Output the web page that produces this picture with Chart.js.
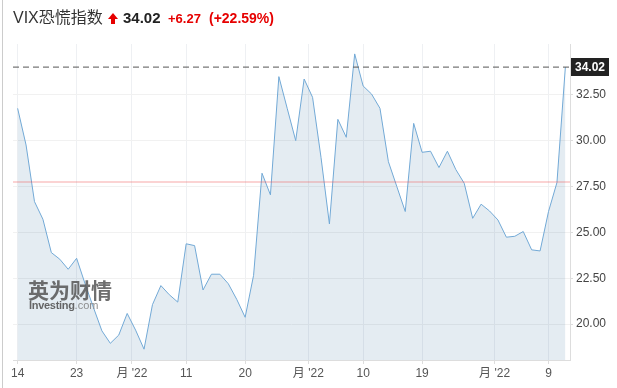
<!DOCTYPE html>
<html>
<head>
<meta charset="utf-8">
<script src="https://cdn.jsdelivr.net/npm/chart.js@4.4.1/dist/chart.umd.min.js"></script>
<style>
  html, body { margin: 0; padding: 0; background: #fff; }
  #wrap { position: relative; width: 617px; height: 388px; overflow: hidden; font-family: Arial, "Liberation Sans", "Noto Sans CJK SC", sans-serif; }
  #c { position: absolute; left: 0; top: 0; }
  .abs { position: absolute; white-space: nowrap; line-height: 1; }
  #leftline { position: absolute; left: 2px; top: 0; width: 1px; height: 388px; background: #cccccc; }
  #arrow { position: absolute; left: 108px; top: 13px; width: 10px; height: 11px; }
  #arrow .tri { position: absolute; left: 0; top: 0; width: 0; height: 0; border-left: 5px solid transparent; border-right: 5px solid transparent; border-bottom: 6px solid #e60000; }
  #arrow .stem { position: absolute; left: 3px; top: 6px; width: 4px; height: 5px; background: #e60000; }
  .wm { pointer-events: none; }
</style>
</head>
<body>
<div id="wrap">
  <canvas id="c" width="617" height="388"></canvas>
  <div id="leftline"></div>
  <span class="abs" style="left:13px; top:9.5px; font-size:16px; color:#333;">VIX恐慌指数</span>
  <div id="arrow"><div class="tri"></div><div class="stem"></div></div>
  <span class="abs" style="left:123px; top:10.3px; font-size:15px; font-weight:bold; color:#222;">34.02</span>
  <span class="abs" style="left:168px; top:12px; font-size:13px; font-weight:bold; color:#e60000;">+6.27</span>
  <span class="abs" style="left:209px; top:11.2px; font-size:14px; font-weight:bold; color:#e60000;">(+22.59%)</span>
  <span class="abs wm" style="left:28px; top:279px; font-size:21px; font-weight:bold; color:rgba(85,85,85,0.85); font-family:'Noto Sans CJK SC', sans-serif;">英为财情</span>
  <span class="abs wm" style="left:29px; top:299.5px; font-size:11px; font-weight:bold; color:rgba(85,85,85,0.9); letter-spacing:-0.3px;">Investing<span style="font-weight:normal; color:rgba(130,130,130,0.9); letter-spacing:0;">.com</span></span>
</div>
<script>
// ---- data ----
const vixValues = [
  31.77, 29.77, 26.68, 25.72, 23.90, 23.54, 22.99, 23.59, 22.20, 20.90,
  19.63, 18.95, 19.40, 20.58, 19.67, 18.63, 21.06, 22.10, 21.60, 21.20,
  24.38, 24.28, 21.86, 22.72, 22.72, 22.20, 21.35, 20.37, 22.66, 28.23,
  27.05, 33.50, 31.75, 30.01, 33.37, 32.37, 29.10, 25.46, 31.17, 30.19,
  34.74, 32.99, 32.55, 31.77, 28.86, 27.50, 26.14, 30.95, 29.37, 29.43,
  28.54, 29.43, 28.43, 27.68, 25.77, 26.54, 26.17, 25.68, 24.74, 24.79,
  25.05, 24.05, 23.99, 26.14, 27.72, 34.02
];
const lastValue = 34.02;
const prevClose = 27.75;
const xTickPositions = [0, 7, 13.57, 20, 27, 34.5, 41, 48, 56.6, 63];
const xTickLabels = ['14', '23', "月 '22", '11', '20', "月 '22", '10', '19', "月 '22", '9'];
const yTickValues = [20, 22.5, 25, 27.5, 30, 32.5];
const xRange = [-0.55, 65.55];
const yRange = [18.04, 35.28];

const linePoints = vixValues.map((v, i) => ({ x: i, y: v }));
const hline = (val) => [{ x: xRange[0], y: val }, { x: xRange[1], y: val }];

const lastLabelPlugin = {
  id: 'lastLabel',
  afterDraw(chart) {
    const ctx = chart.ctx;
    const ys = chart.scales.y;
    const py = Math.round(ys.getPixelForValue(lastValue));
    const left = chart.chartArea.right + 1;
    ctx.save();
    ctx.fillStyle = '#222222';
    ctx.fillRect(left, py - 9, 38, 18);
    ctx.fillStyle = '#ffffff';
    ctx.font = 'bold 12px Arial, "Liberation Sans", sans-serif';
    ctx.textAlign = 'center';
    ctx.textBaseline = 'middle';
    ctx.fillText(lastValue.toFixed(2), left + 19, py + 1);
    ctx.restore();
  }
};

new Chart(document.getElementById('c'), {
  type: 'line',
  data: {
    datasets: [
      {
        data: linePoints,
        borderColor: '#72a9d6',
        borderWidth: 1,
        backgroundColor: 'rgba(30,100,150,0.12)',
        fill: 'start',
        pointRadius: 0,
        tension: 0,
        order: 3
      },
      {
        data: hline(prevClose),
        borderColor: 'rgba(240,80,80,0.25)',
        borderWidth: 2,
        pointRadius: 0,
        fill: false,
        order: 2
      },
      {
        data: hline(lastValue),
        borderColor: '#555555',
        borderWidth: 1,
        borderDash: [6, 4],
        pointRadius: 0,
        fill: false,
        order: 1
      }
    ]
  },
  options: {
    responsive: false,
    animation: false,
    devicePixelRatio: 1,
    layout: { padding: { top: 44, left: 13, right: 0, bottom: 0 } },
    plugins: { legend: { display: false }, tooltip: { enabled: false } },
    scales: {
      x: {
        type: 'linear',
        min: xRange[0],
        max: xRange[1],
        afterBuildTicks: (scale) => { scale.ticks = xTickPositions.map(v => ({ value: v })); },
        afterFit: (scale) => { scale.height = 28; },
        ticks: {
          autoSkip: false,
          maxRotation: 0,
          padding: 2,
          color: '#555',
          font: { size: 12, family: 'Arial, "Liberation Sans", "Noto Sans CJK SC", sans-serif' },
          callback: (value, index) => xTickLabels[index]
        },
        grid: { color: '#eef0f3', tickLength: 4, tickColor: '#dddddd' },
        border: { color: '#dddddd' }
      },
      y: {
        position: 'right',
        min: yRange[0],
        max: yRange[1],
        afterBuildTicks: (scale) => { scale.ticks = yTickValues.map(v => ({ value: v })); },
        afterFit: (scale) => { scale.width = 47; },
        ticks: {
          padding: 3,
          color: '#444',
          font: { size: 12, family: 'Arial, "Liberation Sans", sans-serif' },
          callback: (value) => Number(value).toFixed(2)
        },
        grid: { color: '#f1f1f1', tickLength: 3, tickColor: '#dddddd' },
        border: { color: '#dddddd' }
      }
    }
  },
  plugins: [lastLabelPlugin]
});
</script>
</body>
</html>
